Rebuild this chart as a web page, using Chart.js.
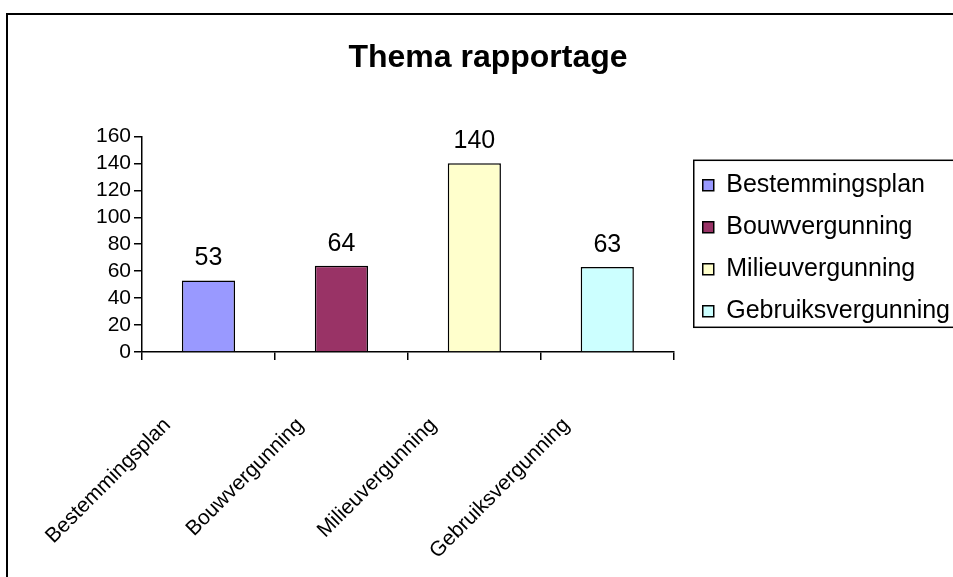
<!DOCTYPE html>
<html>
<head>
<meta charset="utf-8">
<script src="https://cdn.jsdelivr.net/npm/chart.js@4.4.1/dist/chart.umd.min.js"></script>
<style>
  html, body { margin: 0; padding: 0; background: #fff; overflow: hidden; width: 953px; height: 577px; }
  #wrap { position: absolute; left: 0; top: 0; width: 976px; height: 577px; }
</style>
</head>
<body>
<div id="wrap"><canvas id="c"></canvas></div>
<script>
const chartTitle = "Thema rapportage";
const categories = ["Bestemmingsplan", "Bouwvergunning", "Milieuvergunning", "Gebruiksvergunning"];
const values = [53, 64, 140, 63];
const barColors = ["#9999FF", "#993366", "#FFFFCC", "#CCFFFF"];
const yTicks = [0, 20, 40, 60, 80, 100, 120, 140, 160];

const FONT = "Arial, 'Liberation Sans', sans-serif";

const frame = {
  id: 'frame',
  beforeDraw(chart) {
    const ctx = chart.ctx;
    ctx.save();
    ctx.fillStyle = '#fff';
    ctx.fillRect(0, 0, chart.width, chart.height);
    ctx.strokeStyle = '#000';
    ctx.lineWidth = 2;
    ctx.beginPath();
    ctx.moveTo(7, chart.height + 5);
    ctx.lineTo(7, 14);
    ctx.lineTo(chart.width + 5, 14);
    ctx.stroke();
    ctx.restore();
  },
  afterDraw(chart) {
    const lg = chart.legend;
    if (!lg || !lg.legendHitBoxes || !lg.legendHitBoxes.length) return;
    const hb = lg.legendHitBoxes;
    const ctx = chart.ctx;
    const left = hb[0].left - 9;
    const top = hb[0].top - 12.5;
    const bottom = hb[hb.length - 1].top + hb[hb.length - 1].height + 3.5;
    ctx.save();
    ctx.strokeStyle = '#000';
    ctx.lineWidth = 1.5;
    ctx.strokeRect(left, top, chart.width + 20 - left, bottom - top);
    ctx.restore();
  }
};

const valueLabels = {
  id: 'valueLabels',
  afterDatasetsDraw(chart) {
    const ctx = chart.ctx;
    const meta = chart.getDatasetMeta(0);
    ctx.save();
    ctx.font = "25px " + FONT;
    ctx.fillStyle = '#000';
    ctx.textAlign = 'center';
    ctx.textBaseline = 'middle';
    meta.data.forEach((bar, i) => {
      ctx.fillText(String(values[i]), bar.x, bar.y - 22);
    });
    ctx.restore();
  }
};

new Chart(document.getElementById('c'), {
  type: 'bar',
  data: {
    labels: categories,
    datasets: [{
      data: values,
      backgroundColor: barColors,
      borderColor: '#000',
      borderWidth: 1.5,
      barPercentage: 0.4,
      categoryPercentage: 1.0
    }]
  },
  options: {
    responsive: true,
    maintainAspectRatio: false,
    animation: false,
    devicePixelRatio: 1,
    color: '#000',
    layout: { padding: { left: 16, right: 16, top: 0, bottom: 0 } },
    plugins: {
      title: {
        display: true,
        text: chartTitle,
        color: '#000',
        font: { family: FONT, size: 32, weight: 'bold' },
        padding: { top: 39, bottom: 59 }
      },
      legend: {
        display: true,
        position: 'right',
        fullSize: false,
        align: 'center',
        maxWidth: 400,
        title: {
          display: true,
          text: ' ',
          color: '#000',
          font: { family: FONT, size: 1 },
          padding: { top: 7, bottom: 0 }
        },
        labels: {
          font: { family: FONT, size: 25 },
          color: '#000',
          boxWidth: 11,
          boxHeight: 11,
          padding: 17,
          generateLabels(chart) {
            return categories.map((c, i) => ({
              text: c,
              fillStyle: barColors[i],
              strokeStyle: '#000',
              fontColor: '#000',
              lineWidth: 1.5,
              hidden: false,
              index: i
            }));
          }
        }
      },
      tooltip: { enabled: false }
    },
    scales: {
      x: {
        grid: { display: true, drawOnChartArea: false, offset: true, color: '#000', lineWidth: 1.5, tickLength: 8 },
        border: { display: true, color: '#000', width: 1.5 },
        ticks: {
          autoSkip: false,
          minRotation: 45,
          maxRotation: 45,
          labelOffset: -41,
          padding: 53,
          color: '#000',
          font: { family: FONT, size: 21 }
        },
        afterFit(s) { s.height = 225; }
      },
      y: {
        min: 0,
        max: 160,
        afterBuildTicks(s) { s.ticks = yTicks.map(v => ({ value: v })); },
        grid: { display: true, drawOnChartArea: false, color: '#000', lineWidth: 1.5, tickLength: 8 },
        border: { display: true, color: '#000', width: 1.5 },
        ticks: { autoSkip: false, color: '#000', padding: 3, font: { family: FONT, size: 21 } },
        afterFit(s) { s.width = 126; }
      },
      gap: {
        position: 'right',
        display: true,
        grid: { display: false },
        border: { display: false },
        ticks: { display: false },
        afterFit(s) { s.width = 12; }
      }
    }
  },
  plugins: [frame, valueLabels]
});
</script>
</body>
</html>
